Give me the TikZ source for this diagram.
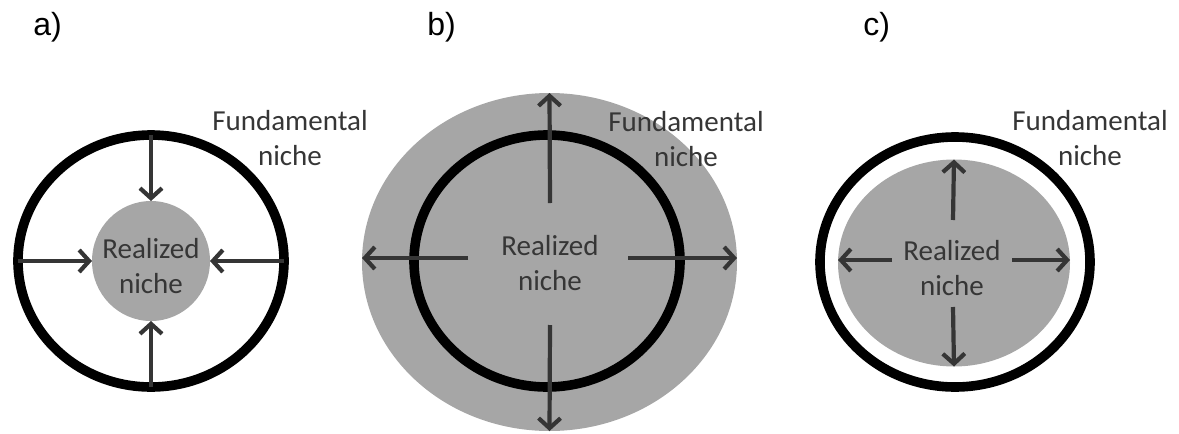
\documentclass[tikz,border=0pt]{standalone}
\usepackage{fontspec}
\setmainfont{Carlito}
\newfontfamily\labelfont{Liberation Sans}
\usetikzlibrary{shapes.geometric,arrows.meta}
\definecolor{nichegray}{HTML}{A6A6A6}
\definecolor{arrowgray}{HTML}{353535}
\definecolor{textgray}{HTML}{363636}
\tikzset{
  ring/.style={ellipse, draw=black, line width=4.8pt, inner sep=0pt, outer sep=0pt},
  blob/.style={ellipse, fill=nichegray, draw=none, inner sep=0pt, outer sep=0pt},
  push/.style={draw=arrowgray, line width=2.1pt, -{Straight Barb[length=5pt,width=11pt]}},
  nichetext/.style={font=\fontsize{14.5pt}{17.5pt}\selectfont, text=textgray, align=center, inner sep=0pt},
  paneltag/.style={font=\labelfont\fontsize{16pt}{18pt}\selectfont, anchor=base west, inner sep=0pt}
}
\begin{document}
\begin{tikzpicture}[x=0.5pt,y=-0.5pt]
\useasboundingbox (0,0) rectangle (1179,434);

% ---------- panel a ----------
\node[paneltag] (tagA) at (33,35) {a)};
\node[ring, minimum width=133pt, minimum height=126pt] (ringA) at (151,261) {};
\node[blob, minimum width=59pt, minimum height=60pt] (blobA) at (151,261) {};
\draw[push] (ringA.north) -- (blobA.north);
\draw[push] (ringA.south) -- (blobA.south);
\draw[push] (ringA.west) -- (blobA.west);
\draw[push] (ringA.east) -- (blobA.east);
\node[nichetext] (realA) at (151,266) {Realized\\niche};
\node[nichetext] (fundA) at (290,138) {Fundamental\\niche};

% ---------- panel b ----------
\node[paneltag] (tagB) at (427,35) {b)};
\node[blob, minimum width=187.5pt, minimum height=169pt] (blobB) at (549.5,262) {};
\node[ring, minimum width=133pt, minimum height=126pt] (ringB) at (547,261) {};
\coordinate (bT) at (550,203);
\coordinate (bB) at (550,325);
\coordinate (bL) at (468,258);
\coordinate (bR) at (628,258);
\draw[push] (bT) -- (blobB.north);
\draw[push] (bB) -- (blobB.south);
\draw[push] (bL) -- (bL -| blobB.west);
\draw[push] (bR) -- (bR -| blobB.east);
\node[nichetext] (realB) at (550,263) {Realized\\niche};
\node[nichetext] (fundB) at (686,139) {Fundamental\\niche};

% ---------- panel c ----------
\node[paneltag] (tagC) at (863,35) {c)};
\node[ring, minimum width=135pt, minimum height=125pt] (ringC) at (955,262) {};
\node[blob, minimum width=116pt, minimum height=103.5pt] (blobC) at (954,263) {};
\coordinate (cT) at (953,220);
\coordinate (cB) at (953,307);
\coordinate (cL) at (892,260);
\coordinate (cR) at (1012,260);
\draw[push] (cT) -- (blobC.north);
\draw[push] (cB) -- (blobC.south);
\draw[push] (cL) -- (cL -| blobC.west);
\draw[push] (cR) -- (cR -| blobC.east);
\node[nichetext] (realC) at (952,268) {Realized\\niche};
\node[nichetext] (fundC) at (1090,138) {Fundamental\\niche};
\end{tikzpicture}
\end{document}
